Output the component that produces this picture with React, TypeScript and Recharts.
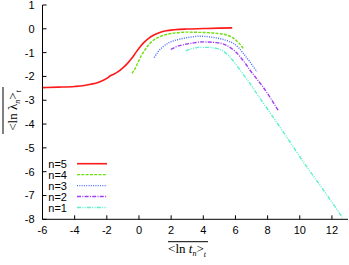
import React from 'react';
import { LineChart, Line, XAxis, YAxis, Customized } from 'recharts';

const xTicks = [-6, -4, -2, 0, 2, 4, 6, 8, 10, 12];
const yTicks = [-8, -7, -6, -5, -4, -3, -2, -1, 0, 1];
const seriesNames = ['n=5', 'n=4', 'n=3', 'n=2', 'n=1'];

const n5X = [-6, -5, -4, -3.5, -3, -2.5, -2, -1.8, -1.6, -1.3, -1.0, -0.7, -0.45, -0.2, 0.05, 0.3, 0.6, 0.9, 1.3, 1.7, 2.2, 3, 4, 5, 5.8];
const n5Y = [-2.47, -2.45, -2.42, -2.39, -2.33, -2.24, -2.08, -1.98, -1.92, -1.8, -1.64, -1.44, -1.24, -1.0, -0.77, -0.58, -0.4, -0.27, -0.15, -0.08, -0.04, -0.01, 0.01, 0.03, 0.04];

const n4X = [-0.43, -0.25, -0.05, 0.15, 0.37, 0.6, 0.9, 1.2, 1.7, 2.3, 3, 3.8, 4.5, 5.0, 5.4, 5.8, 6.1, 6.35, 6.52];
const n4Y = [-1.87, -1.68, -1.4, -1.12, -0.89, -0.67, -0.48, -0.36, -0.24, -0.17, -0.14, -0.15, -0.17, -0.2, -0.25, -0.36, -0.52, -0.7, -0.87];

const n3X = [0.95, 1.19, 1.5, 1.9, 2.5, 3.2, 3.8, 4.5, 5.0, 5.5, 5.85, 6.2, 6.5, 6.8, 7.1, 7.34];
const n3Y = [-1.21, -0.96, -0.75, -0.57, -0.44, -0.35, -0.31, -0.35, -0.41, -0.5, -0.6, -0.8, -1.04, -1.3, -1.58, -1.8];

const n2X = [1.98, 2.33, 2.9, 3.5, 4.0, 4.8, 5.3, 5.7, 6.0, 6.3, 6.6, 6.9, 7.3, 7.7, 8.2, 8.65];
const n2Y = [-0.86, -0.75, -0.65, -0.58, -0.55, -0.58, -0.65, -0.8, -0.96, -1.18, -1.44, -1.73, -2.08, -2.43, -2.93, -3.42];

const n1X = [2.91, 3.3, 3.8, 4.3, 4.8, 5.2, 5.5, 5.8, 6.1, 6.4, 6.75, 7.5, 8.75, 10.4, 11.5, 12.65];
const n1Y = [-0.93, -0.83, -0.78, -0.78, -0.82, -0.92, -1.08, -1.3, -1.56, -1.84, -2.15, -2.89, -4.11, -5.76, -6.8, -7.92];

const toPts = (xs: number[], ys: number[]) => xs.map((x, i) => ({ x, y: ys[i] }));

const series = [
  { name: seriesNames[0], data: toPts(n5X, n5Y), color: '#ff1a1a', dash: undefined as string | undefined, width: 1.6 },
  { name: seriesNames[1], data: toPts(n4X, n4Y), color: '#6ee010', dash: '3 1.3', width: 1.4 },
  { name: seriesNames[2], data: toPts(n3X, n3Y), color: '#4a6cff', dash: '1 1.3', width: 1.4 },
  { name: seriesNames[3], data: toPts(n2X, n2Y), color: '#a040f5', dash: '4 1.3 1 1.3', width: 1.4 },
  { name: seriesNames[4], data: toPts(n1X, n1Y), color: '#5cf0cc', dash: '4 1.3 1 1.3 1 1.3', width: 1.4 },
];

const sansFont = '"Liberation Sans", Arial, sans-serif';
const serifFont = '"Liberation Serif", "Times New Roman", serif';

const Decorations = () => (
  <g>
    {/* x axis label */}
    <line x1={168} x2={208} y1={241.7} y2={241.7} stroke="#000" strokeWidth={1} />
    <text x={187} y={253} textAnchor="middle" fontFamily={serifFont} fontSize={13} fill="#000">
      {'<ln '}
      <tspan fontStyle="italic">t</tspan>
      <tspan dy={3} fontSize={8} fontStyle="italic">n</tspan>
      <tspan dy={-3}>{'>'}</tspan>
      <tspan dy={4} fontSize={8} fontStyle="italic">t</tspan>
    </text>
    {/* y axis label */}
    <line x1={3} x2={3} y1={87} y2={134} stroke="#000" strokeWidth={1} />
    <text transform="translate(17,110.5) rotate(-90)" x={0} y={0} textAnchor="middle" fontFamily={serifFont} fontSize={13} fill="#000">
      {'<ln λ'}
      <tspan dy={3} fontSize={8} fontStyle="italic">n</tspan>
      <tspan dy={-3}>{'>'}</tspan>
      <tspan dy={4} fontSize={8} fontStyle="italic">t</tspan>
    </text>
    {/* legend */}
    {series.map((s, i) => {
      const cy = 163.7 + i * 10.95;
      return (
        <g key={s.name}>
          <text x={67} y={cy + 4} textAnchor="end" fontFamily={sansFont} fontSize={11} fill="#000">
            {s.name}
          </text>
          <line x1={77} x2={107} y1={cy} y2={cy} stroke={s.color} strokeWidth={s.width} strokeDasharray={s.dash} />
        </g>
      );
    })}
  </g>
);

export default function App() {
  const tickStyle = { fontFamily: sansFont, fontSize: 11, fill: '#000' };
  return (
    <div style={{ position: 'absolute', left: 0, top: 0, width: 349, height: 265, background: '#fff' }}>
      <LineChart width={349} height={265} margin={{ top: 5, right: 1, bottom: 0, left: 0 }}>
        <XAxis
          xAxisId={0}
          dataKey="x"
          type="number"
          domain={[-6, 13]}
          ticks={xTicks}
          allowDataOverflow
          height={45.7}
          tickSize={-4}
          tickMargin={11}
          stroke="#000"
          tick={tickStyle}
          interval={0}
        />
        <XAxis
          xAxisId="top"
          orientation="top"
          dataKey="x"
          type="number"
          domain={[-6, 13]}
          ticks={xTicks}
          allowDataOverflow
          height={0}
          tickSize={4}
          stroke="#000"
          tickFormatter={() => ''}
          interval={0}
        />
        <YAxis
          yAxisId={0}
          dataKey="y"
          type="number"
          domain={[-8, 1]}
          ticks={yTicks}
          allowDataOverflow
          width={42.5}
          tickSize={-4}
          tickMargin={12}
          stroke="#000"
          tick={tickStyle}
          interval={0}
        />
        <YAxis
          yAxisId="right"
          orientation="right"
          dataKey="y"
          type="number"
          domain={[-8, 1]}
          ticks={yTicks}
          allowDataOverflow
          width={0}
          tickSize={4}
          stroke="#000"
          tickFormatter={() => ''}
          interval={0}
        />
        {series.map((s) => (
          <Line
            key={s.name}
            data={s.data}
            dataKey="y"
            type="monotone"
            stroke={s.color}
            strokeWidth={s.width}
            strokeDasharray={s.dash}
            dot={false}
            activeDot={false}
            isAnimationActive={false}
            xAxisId={0}
            yAxisId={0}
          />
        ))}
        <Customized component={Decorations} />
      </LineChart>
    </div>
  );
}
